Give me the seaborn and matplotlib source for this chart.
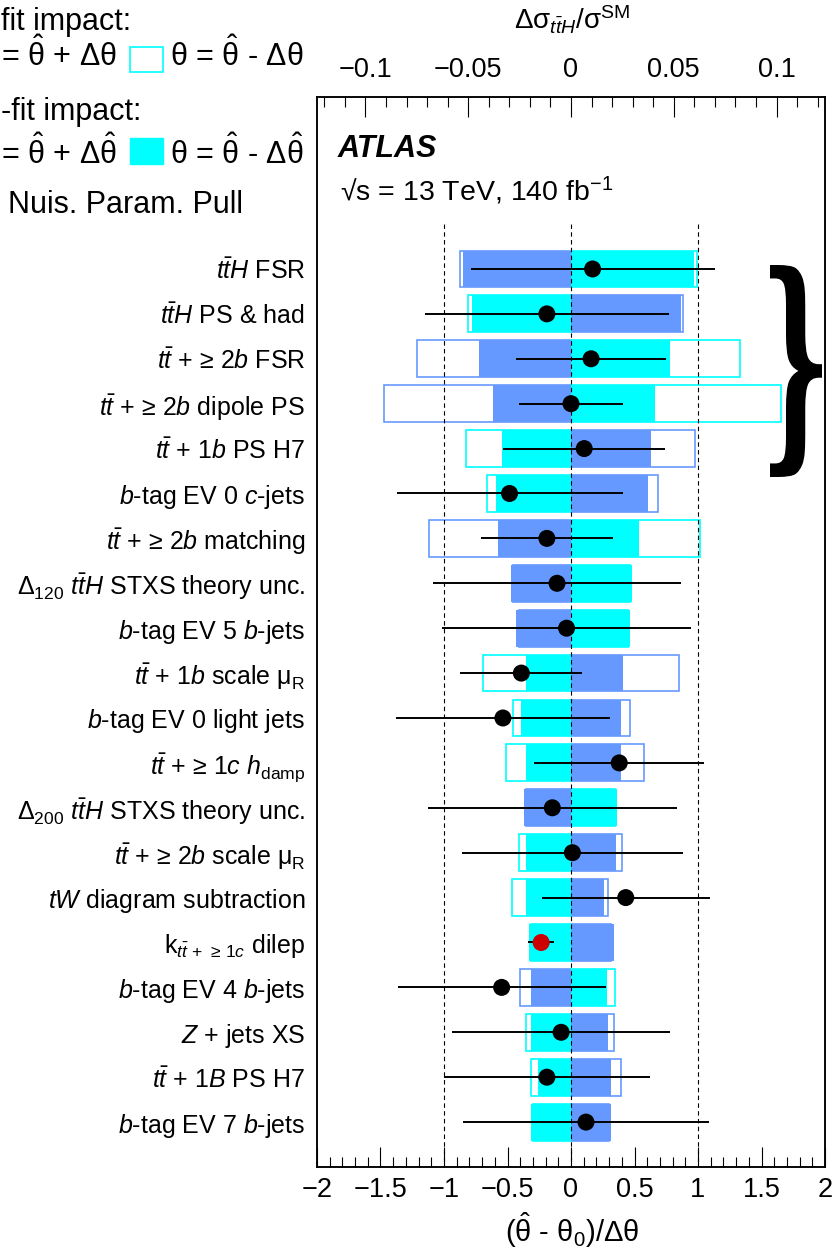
import numpy as np
import matplotlib
matplotlib.use("Agg")
import matplotlib.pyplot as plt
import seaborn as sns
from matplotlib.ticker import MultipleLocator, FuncFormatter
from matplotlib.patches import Rectangle, PathPatch
from matplotlib.textpath import TextPath
from matplotlib.font_manager import FontProperties
from matplotlib.transforms import Affine2D

# Ranking of nuisance parameters (top = largest impact)
labels = [
    r"$t\bar{t}H$ FSR",
    r"$t\bar{t}H$ PS & had",
    r"$t\bar{t}$ + ≥ 2$b$ FSR",
    r"$t\bar{t}$ + ≥ 2$b$ dipole PS",
    r"$t\bar{t}$ + 1$b$ PS H7",
    r"$b$-tag EV 0 $c$-jets",
    r"$t\bar{t}$ + ≥ 2$b$ matching",
    r"$\Delta_{120}$ $t\bar{t}H$ STXS theory unc.",
    r"$b$-tag EV 5 $b$-jets",
    r"$t\bar{t}$ + 1$b$ scale $\mathrm{\mu}_{\mathrm{R}}$",
    r"$b$-tag EV 0 light jets",
    r"$t\bar{t}$ + ≥ 1$c$ $h_{\mathrm{damp}}$",
    r"$\Delta_{200}$ $t\bar{t}H$ STXS theory unc.",
    r"$t\bar{t}$ + ≥ 2$b$ scale $\mathrm{\mu}_{\mathrm{R}}$",
    r"$tW$ diagram subtraction",
    r"k$_{t\bar{t}\,+\,\geq\,1c}$ dilep",
    r"$b$-tag EV 4 $b$-jets",
    r"$Z$ + jets XS",
    r"$t\bar{t}$ + 1$B$ PS H7",
    r"$b$-tag EV 7 $b$-jets",
]
kind = ["NP"] * 15 + ["norm"] + ["NP"] * 4

# pulls (theta_hat - theta_0)/dtheta and their post-fit errors
pull = [0.17, -0.19, 0.158, 0.0, 0.104, -0.484, -0.19, -0.11, -0.035, -0.391,
        -0.536, 0.38, -0.147, 0.011, 0.431, -0.235, -0.546, -0.078, -0.19, 0.118]
pull_err = [0.96, 0.96, 0.59, 0.41, 0.64, 0.89, 0.52, 0.98, 0.98, 0.48,
            0.84, 0.67, 0.98, 0.87, 0.66, 0.10, 0.82, 0.86, 0.81, 0.97]

# impact on dsigma/sigma_SM, theta = theta_hat +/- dtheta_hat (post-fit)
post_up = [-0.0525, 0.0536, -0.0446, -0.0381, 0.0388, 0.0377, -0.0356, -0.0294, -0.0267, 0.0251,
           0.0241, 0.0241, -0.0230, 0.0218, 0.0159, 0.0207, -0.0197, 0.0180, 0.0197, 0.0197]
post_down = [0.0598, -0.0484, 0.0480, 0.0410, -0.0334, -0.0364, 0.0332, 0.0298, 0.0287, -0.0221,
             -0.0241, -0.0221, 0.0224, -0.0221, -0.0221, -0.0205, 0.0177, -0.0195, -0.0162, -0.0193]
# pre-fit, theta = theta_hat +/- dtheta
pre_up = [-0.0541, 0.0546, -0.0751, -0.0910, 0.0603, 0.0421, -0.0693, -0.0280, -0.0255, 0.0524,
          0.0287, 0.0355, -0.0220, 0.0246, 0.0182, 0.0195, -0.0249, 0.0208, 0.0241, 0.0187]
pre_down = [0.0615, -0.0500, 0.0821, 0.1024, -0.0513, -0.0407, 0.0627, 0.0285, 0.0275, -0.0426,
            -0.0284, -0.0317, 0.0214, -0.0254, -0.0287, -0.0195, 0.0213, -0.0221, -0.0197, -0.0183]

BLUE = "#6699ff"
CYAN = "#00ffff"
W, H = 832, 1252
IMPACT_MAX = 0.1236   # top-axis value sitting above pull = +2

plt.rcParams["font.family"] = ["Liberation Sans", "DejaVu Sans"]
plt.rcParams["mathtext.fontset"] = "custom"
plt.rcParams["mathtext.rm"] = "Liberation Sans"
plt.rcParams["mathtext.it"] = "Liberation Sans:italic"
plt.rcParams["mathtext.bf"] = "Liberation Sans:bold"

fig = plt.figure(figsize=(W / 100, H / 100), dpi=100)
ax = fig.add_axes([317 / W, 1 - 1167 / H, 508 / W, 1070 / H])
ax2 = ax.twiny()
ax.set_zorder(ax2.get_zorder() + 1)
ax.patch.set_visible(False)

ypos = np.arange(len(labels))

# impact bars on the top (dsigma/sigma) axis
bar_kw = dict(orient="y", native_scale=True, width=0.82, saturation=1, errorbar=None, ax=ax2)
sns.barplot(x=pre_up, y=ypos, fill=False, color=BLUE, linewidth=1.2, **bar_kw)
sns.barplot(x=pre_down, y=ypos, fill=False, color=CYAN, linewidth=1.2, **bar_kw)
sns.barplot(x=post_up, y=ypos, color=BLUE, linewidth=0, **bar_kw)
sns.barplot(x=post_down, y=ypos, color=CYAN, linewidth=0, **bar_kw)

# pulls on the bottom axis
ax.vlines([-1, 0, 1], -1.0, 20.0, colors="black", linestyles=(0, (4, 3)), linewidth=0.8, zorder=2)
ax.errorbar(pull, ypos, xerr=pull_err, fmt="none", ecolor="black", elinewidth=1.4, capsize=0, zorder=3)
sns.scatterplot(x=pull, y=ypos, hue=kind, palette={"NP": "black", "norm": "#cc0000"},
                s=150, linewidth=0, legend=False, ax=ax, zorder=4)

ax.set_xlim(-2, 2)
ax2.set_xlim(-IMPACT_MAX, IMPACT_MAX)
ax.set_ylim(20.0, -3.83)
ax.set_yticks(ypos)
ax.set_yticklabels(labels)
ax.set_xlabel("")
ax.set_ylabel("")
ax2.set_xlabel("")
ax2.set_ylabel("")


def fmt(v, p):
    v = round(v, 6) + 0.0
    return f"{v:g}".replace("-", "\u2212")


ax.xaxis.set_major_locator(MultipleLocator(0.5))
ax.xaxis.set_minor_locator(MultipleLocator(0.1))
ax.xaxis.set_major_formatter(FuncFormatter(fmt))
ax2.xaxis.set_major_locator(MultipleLocator(0.05))
ax2.xaxis.set_minor_locator(MultipleLocator(0.01))
ax2.xaxis.set_major_formatter(FuncFormatter(fmt))

ax.tick_params(axis="x", which="both", direction="in", bottom=True, top=False,
               labelsize=19.5, pad=7, width=0.8, color="black")
ax.tick_params(axis="x", which="major", length=14.5)
ax.tick_params(axis="x", which="minor", length=7.2)
ax.tick_params(axis="y", which="both", left=False, right=False, length=0, labelsize=18, pad=8.5)
ax2.tick_params(axis="x", which="both", direction="in", top=True, bottom=False,
                labelsize=19.5, pad=10, width=0.8, color="black")
ax2.tick_params(axis="x", which="major", length=14.5)
ax2.tick_params(axis="x", which="minor", length=7.2)
for a in (ax, ax2):
    for s in a.spines.values():
        s.set_linewidth(1.1)
        s.set_color("black")

# axis titles
fig.text(572 / W, 1 - 20 / H, r"$\Delta\mathrm{\sigma}_{t\bar{t}H}/\mathrm{\sigma}^{\mathrm{SM}}$",
         ha="center", va="center", fontsize=20)
fig.text(572 / W, 1 - 1230 / H,
         r"($\hat{\mathrm{\theta}}$ - $\mathrm{\theta}_{0}$)/$\Delta\mathrm{\theta}$",
         ha="center", va="center", fontsize=21)

fig.text(338 / W, 1 - 157 / H, "ATLAS", fontsize=22, fontweight="bold", fontstyle="italic")
fig.text(340 / W, 1 - 201 / H, "√s = 13 TeV, 140 fb$^{-1}$", fontsize=20.5)

# legend: only the part that is visible in the original frame
that = r"$\hat{\mathrm{\theta}}$"
theta = r"$\mathrm{\theta}$"
fig.text(1 / W, 1 - 30 / H, "fit impact:", fontsize=22)
fig.text(1 / W, 1 - 66 / H, "= " + that + r" + $\Delta\mathrm{\theta}$", fontsize=22)
fig.add_artist(Rectangle((130 / W, 1 - 72 / H), 33 / W, 25 / H, transform=fig.transFigure,
                         facecolor="white", edgecolor=CYAN, lw=1.2))
fig.text(170 / W, 1 - 66 / H, theta + " = " + that + r" - $\Delta\mathrm{\theta}$", fontsize=22)
fig.text(1 / W, 1 - 120 / H, "-fit impact:", fontsize=22)
fig.text(1 / W, 1 - 164 / H, "= " + that + r" + $\Delta\hat{\mathrm{\theta}}$", fontsize=22)
fig.add_artist(Rectangle((130 / W, 1 - 164 / H), 33 / W, 26 / H, transform=fig.transFigure,
                         facecolor=CYAN, edgecolor=CYAN, lw=1.0))
fig.text(170 / W, 1 - 164 / H, theta + " = " + that + r" - $\Delta\hat{\mathrm{\theta}}$", fontsize=22)
fig.text(8 / W, 1 - 213 / H, "Nuis. Param. Pull", fontsize=22)

# curly brace grouping the first five parameters
tp = TextPath((0, 0), "}", size=1, prop=FontProperties(family="DejaVu Serif", weight="bold"))
ext = tp.get_extents()
bx0, bx1, by0, by1 = 770, 822, 265, 477
tr = (Affine2D().translate(-ext.x0, -ext.y0)
      .scale((bx1 - bx0) / ext.width / W, (by1 - by0) / ext.height / H)
      .translate(bx0 / W, 1 - by1 / H))
fig.add_artist(PathPatch(tr.transform_path(tp), facecolor="black", lw=0, transform=fig.transFigure))

fig.savefig("out.png", dpi=100)
